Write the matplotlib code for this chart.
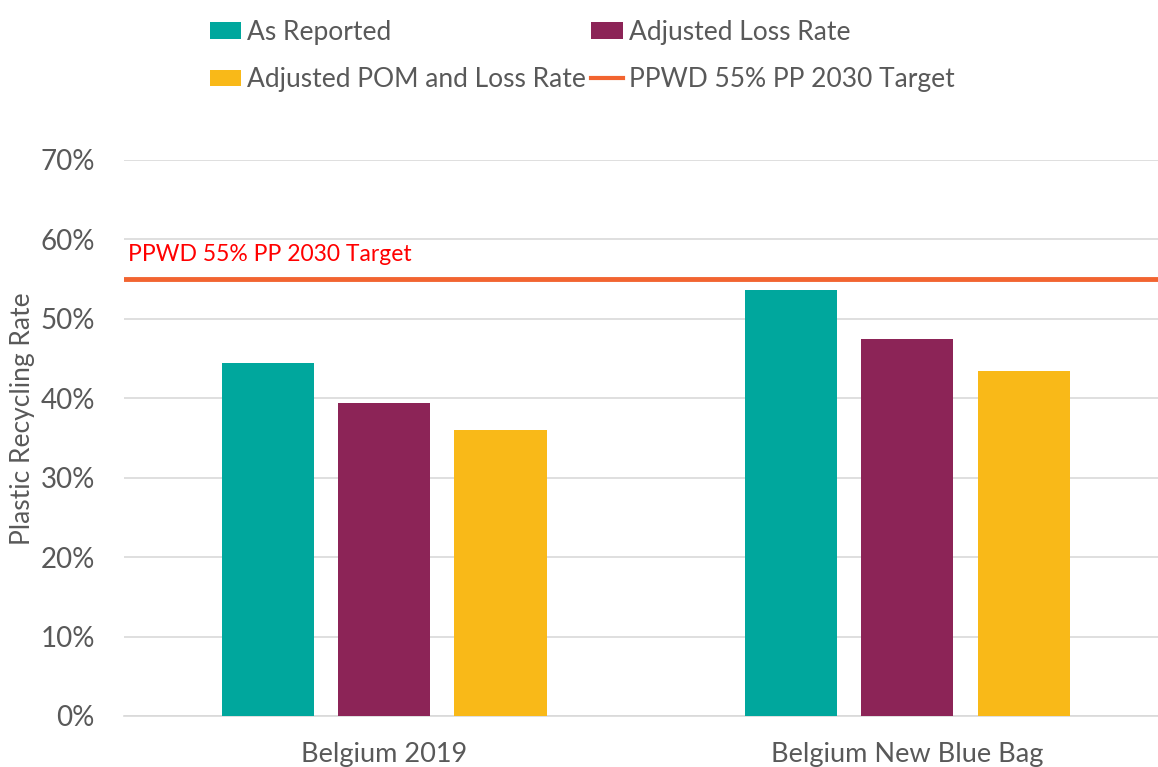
import numpy as np
import matplotlib
matplotlib.use('Agg')
import matplotlib.pyplot as plt
from matplotlib.patches import Patch
from matplotlib.lines import Line2D

plt.rcParams['font.family'] = ['Lato', 'DejaVu Sans']

# data
categories = ['Belgium 2019', 'Belgium New Blue Bag']
series_names = ['As Reported', 'Adjusted Loss Rate', 'Adjusted POM and Loss Rate']
as_reported = [0.444, 0.536]
adj_loss = [0.394, 0.475]
adj_pom_loss = [0.360, 0.434]
target = 0.55
target_name = 'PPWD 55% PP 2030 Target'

colors = ['#00A79D', '#8C2457', '#F9B918']
line_color = '#F26430'
text_grey = '#595959'

fig = plt.figure(figsize=(11.58, 7.67), dpi=100)
fig.patch.set_facecolor('white')
ax = fig.add_axes([0.107, 0.0665, 0.893, 0.7249])

x = np.arange(len(categories))
w = 0.176
step = 0.222
for i, vals in enumerate([as_reported, adj_loss, adj_pom_loss]):
    ax.bar(x + (i - 1) * step, vals, width=w, color=colors[i], zorder=3)

# target line + its label
ax.axhline(target, color=line_color, linewidth=3.5, zorder=4)
ax.text(0.004, target + 0.031, target_name, transform=ax.get_yaxis_transform(),
        color='#FF0000', fontsize=16.5, ha='left', va='center')

ax.set_xlim(-0.498, 1.479)
ax.set_ylim(0, 0.70)
ax.set_yticks(np.arange(0, 0.71, 0.1))
ax.set_yticklabels([f'{int(round(v * 100))}%' for v in np.arange(0, 0.71, 0.1)])
ax.set_xticks(x)
ax.set_xticklabels(categories)
ax.yaxis.grid(True, color='#D9D9D9', linewidth=1.2, zorder=0)
ax.set_axisbelow(True)
for s in ['top', 'right', 'left']:
    ax.spines[s].set_visible(False)
ax.spines['bottom'].set_color('#D9D9D9')
ax.spines['bottom'].set_linewidth(1.2)
ax.tick_params(axis='both', length=0, colors=text_grey, labelsize=20)
ax.tick_params(axis='y', pad=21)
ax.tick_params(axis='x', labelsize=19.5, pad=19)
ax.set_ylabel('Plastic Recycling Rate', fontsize=19, color=text_grey)
ax.yaxis.set_label_coords(-0.086, 0.534)

handles = [Patch(facecolor=colors[0]), Patch(facecolor=colors[1]),
           Patch(facecolor=colors[2]), Line2D([], [], color=line_color, linewidth=3)]
labels = [series_names[0], series_names[1], series_names[2], target_name]
# order so that column-major layout reads row by row
order = [0, 2, 1, 3]
leg = fig.legend([handles[k] for k in order], [labels[k] for k in order],
                 ncol=2, loc='upper left', bbox_to_anchor=(0.164, 1.0),
                 frameon=False, fontsize=19, handlelength=1.2, handleheight=0.6,
                 handletextpad=0.22, columnspacing=0.2, labelspacing=0.85,
                 borderaxespad=0.35)
for t in leg.get_texts():
    t.set_color(text_grey)

fig.savefig('out.png', dpi=100)
